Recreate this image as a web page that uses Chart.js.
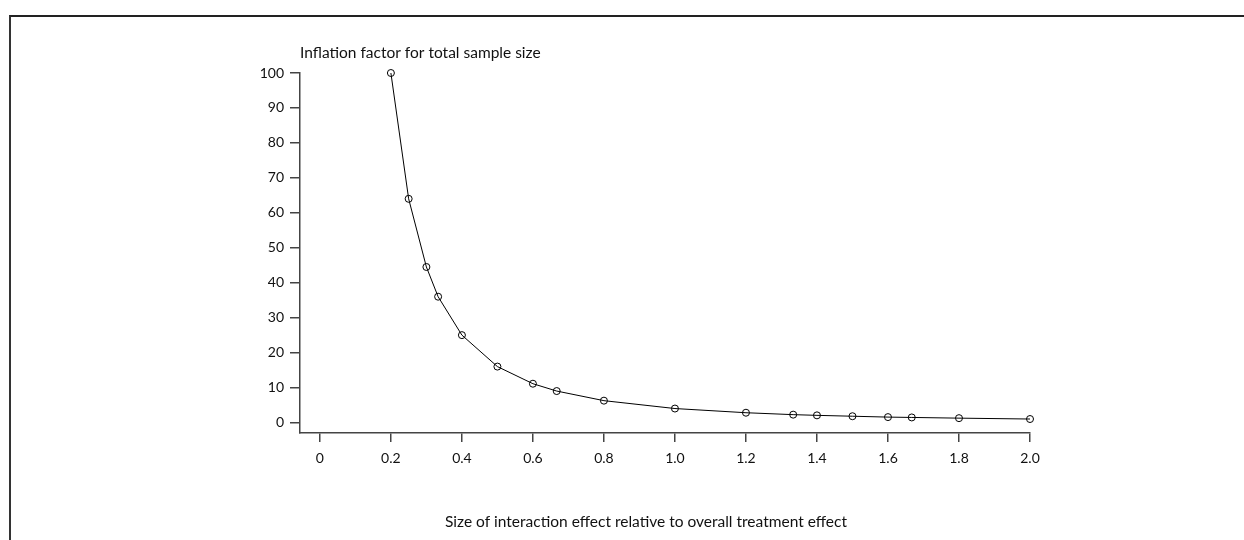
<!DOCTYPE html>
<html>
<head>
<meta charset="utf-8">
<script src="https://cdn.jsdelivr.net/npm/chart.js@4"></script>
<style>
  body { margin: 0; background: #fff; }
  #frame { position: absolute; left: 9px; top: 15px; width: 1300px; height: 600px;
           border-left: 2px solid #333; border-top: 2px solid #222; }
  #wrap { position: absolute; left: 0; top: 0; width: 1244px; height: 540px; }
</style>
</head>
<body>
<div id="frame"></div>
<div id="wrap"><canvas id="myChart" width="1244" height="540"></canvas></div>
<script>
// interaction effect relative to overall effect
const effectSize = [0.2, 0.25, 0.3, 0.333, 0.4, 0.5, 0.6, 0.667, 0.8, 1.0, 1.2, 1.333, 1.4, 1.5, 1.6, 1.667, 1.8, 2.0];
// inflation factor
const inflation = [100, 64, 44.5, 36, 25, 16, 11.1, 9, 6.25, 4, 2.8, 2.25, 2.05, 1.8, 1.55, 1.45, 1.25, 1];
const xTicks = [0, 0.2, 0.4, 0.6, 0.8, 1.0, 1.2, 1.4, 1.6, 1.8, 2.0];
const yTicks = [0, 10, 20, 30, 40, 50, 60, 70, 80, 90, 100];

const yTitle = 'Inflation factor for total sample size';
const xTitle = 'Size of interaction effect relative to overall treatment effect';

const font = { family: 'Lato', size: 14 };
const axisColor = '#444';

const titles = {
  id: 'titles',
  afterDraw(chart) {
    const ctx = chart.ctx;
    const area = chart.chartArea;
    ctx.save();
    ctx.font = '15.5px Lato';
    ctx.fillStyle = '#111';
    ctx.textBaseline = 'middle';
    ctx.textAlign = 'left';
    ctx.fillText(yTitle, area.left, 53);
    ctx.textAlign = 'center';
    ctx.fillText(xTitle, 646, 522);
    ctx.restore();
  }
};

const data = {
  datasets: [{
    data: effectSize.map((x, i) => ({ x: x, y: inflation[i] })),
    borderColor: '#000',
    borderWidth: 1,
    pointRadius: 3.5,
    pointBorderWidth: 1,
    pointBackgroundColor: 'rgba(255,255,255,0)',
    pointBorderColor: '#000',
    tension: 0,
    clip: false
  }]
};

const config = {
  type: 'line',
  data,
  options: {
    responsive: false,
    animation: false,
    layout: { padding: { left: 260, top: 73, right: 214, bottom: 47 } },
    plugins: { legend: { display: false }, tooltip: { enabled: false } },
    scales: {
      x: {
        type: 'linear',
        min: -0.056,
        max: 2.0,
        afterBuildTicks: s => { s.ticks = xTicks.map(v => ({ value: v })); },
        afterFit: s => { s.height = 60; },
        border: { display: true, color: axisColor, width: 1.5 },
        grid: { drawOnChartArea: false, drawTicks: true, tickLength: 9, color: axisColor, lineWidth: 1.5 },
        ticks: {
          font, color: '#111', padding: 8, maxRotation: 0,
          callback: v => v === 0 ? '0' : v.toFixed(1)
        }
      },
      y: {
        min: -3,
        max: 100,
        afterBuildTicks: s => { s.ticks = yTicks.map(v => ({ value: v })); },
        afterFit: s => { s.width = 40; },
        border: { display: true, color: axisColor, width: 1.5 },
        grid: { drawOnChartArea: false, drawTicks: true, tickLength: 10, color: axisColor, lineWidth: 1.5 },
        ticks: { font, color: '#111', padding: 6 }
      }
    }
  },
  plugins: [titles]
};

var myChart = new Chart(document.getElementById('myChart'), config);
</script>
</body>
</html>
